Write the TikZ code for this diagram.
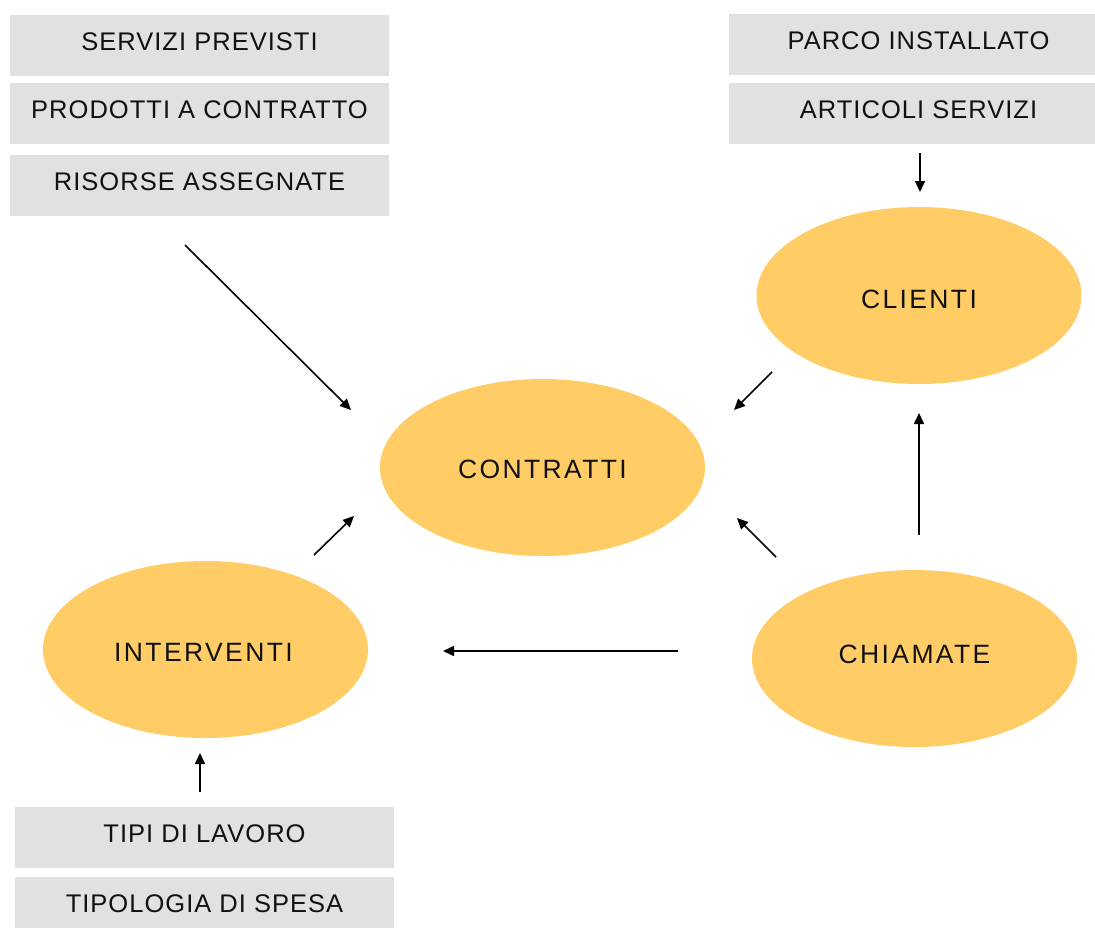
\documentclass[tikz,border=0pt]{standalone}
\usepackage{fontspec}
\usetikzlibrary{shapes.geometric,arrows.meta}
\newfontfamily\boxfont[LetterSpace=4]{Liberation Sans}
\newfontfamily\ellfont[LetterSpace=9]{Liberation Sans}
\definecolor{boxgray}{HTML}{E1E1E1}
\definecolor{ellorange}{HTML}{FFCC66}
\definecolor{txt}{HTML}{111111}
\begin{document}
\begin{tikzpicture}[x=1pt,y=-1pt,
  graybox/.style={rectangle,fill=boxgray,draw=none,minimum width=379pt,minimum height=61pt,
    inner sep=0pt,text depth=8pt,text=txt,font=\boxfont\fontsize{25.5}{29}\selectfont},
  ellnode/.style={ellipse,fill=ellorange,draw=none,minimum width=325pt,minimum height=177pt,
    inner sep=0pt},
  elltext/.style={text=txt,font=\ellfont\fontsize{26.5}{30}\selectfont,inner sep=0pt},
  conn/.style={line width=1.6pt,-{Triangle[length=11pt,width=10pt]}}]
\useasboundingbox (0,0) rectangle (1095,927);
\clip (0,0) rectangle (1095,927);
% left top boxes
\node[graybox] (servizi) at (199.5,45.5) {SERVIZI PREVISTI};
\node[graybox] (prodotti) at (199.5,113.5) {PRODOTTI A CONTRATTO};
\node[graybox] (risorse) at (199.5,185.5) {RISORSE ASSEGNATE};
% right top boxes
\node[graybox] (parco) at (918.5,44.5) {PARCO INSTALLATO};
\node[graybox] (articoli) at (918.5,113.5) {ARTICOLI SERVIZI};
% bottom boxes
\node[graybox] (tipi) at (204.5,837.5) {TIPI DI LAVORO};
\node[graybox] (tipologia) at (204.5,907.5) {TIPOLOGIA DI SPESA};
% ellipses
\node[ellnode,label={[elltext,shift={(0,2)}]center:CONTRATTI}] (contratti) at (542.5,467.5) {};
\node[ellnode,label={[elltext,shift={(0,4)}]center:CLIENTI}] (clienti) at (919,295.5) {};
\node[ellnode,label={[elltext,shift={(0,-4.5)}]center:CHIAMATE}] (chiamate) at (914.5,658.5) {};
\node[ellnode,label={[elltext,shift={(-2,3)}]center:INTERVENTI}] (interventi) at (205.5,649.5) {};
% connector end points
\coordinate (a1s) at (185,245);  \coordinate (a1e) at (351,410);
\coordinate (a2s) at (920,153);  \coordinate (a2e) at (920,192);
\coordinate (a3s) at (772,372);  \coordinate (a3e) at (734,410);
\coordinate (a4s) at (919,535);  \coordinate (a4e) at (919,413);
\coordinate (a5s) at (776,557);  \coordinate (a5e) at (737,518);
\coordinate (a6s) at (678,651);  \coordinate (a6e) at (443,651);
\coordinate (a7s) at (314,555);  \coordinate (a7e) at (354,516);
\coordinate (a8s) at (200,792);  \coordinate (a8e) at (200,753);
\draw[conn] (a1s) -- (a1e);
\draw[conn] (a2s) -- (a2e);
\draw[conn] (a3s) -- (a3e);
\draw[conn] (a4s) -- (a4e);
\draw[conn] (a5s) -- (a5e);
\draw[conn] (a6s) -- (a6e);
\draw[conn] (a7s) -- (a7e);
\draw[conn] (a8s) -- (a8e);
\end{tikzpicture}
\end{document}
